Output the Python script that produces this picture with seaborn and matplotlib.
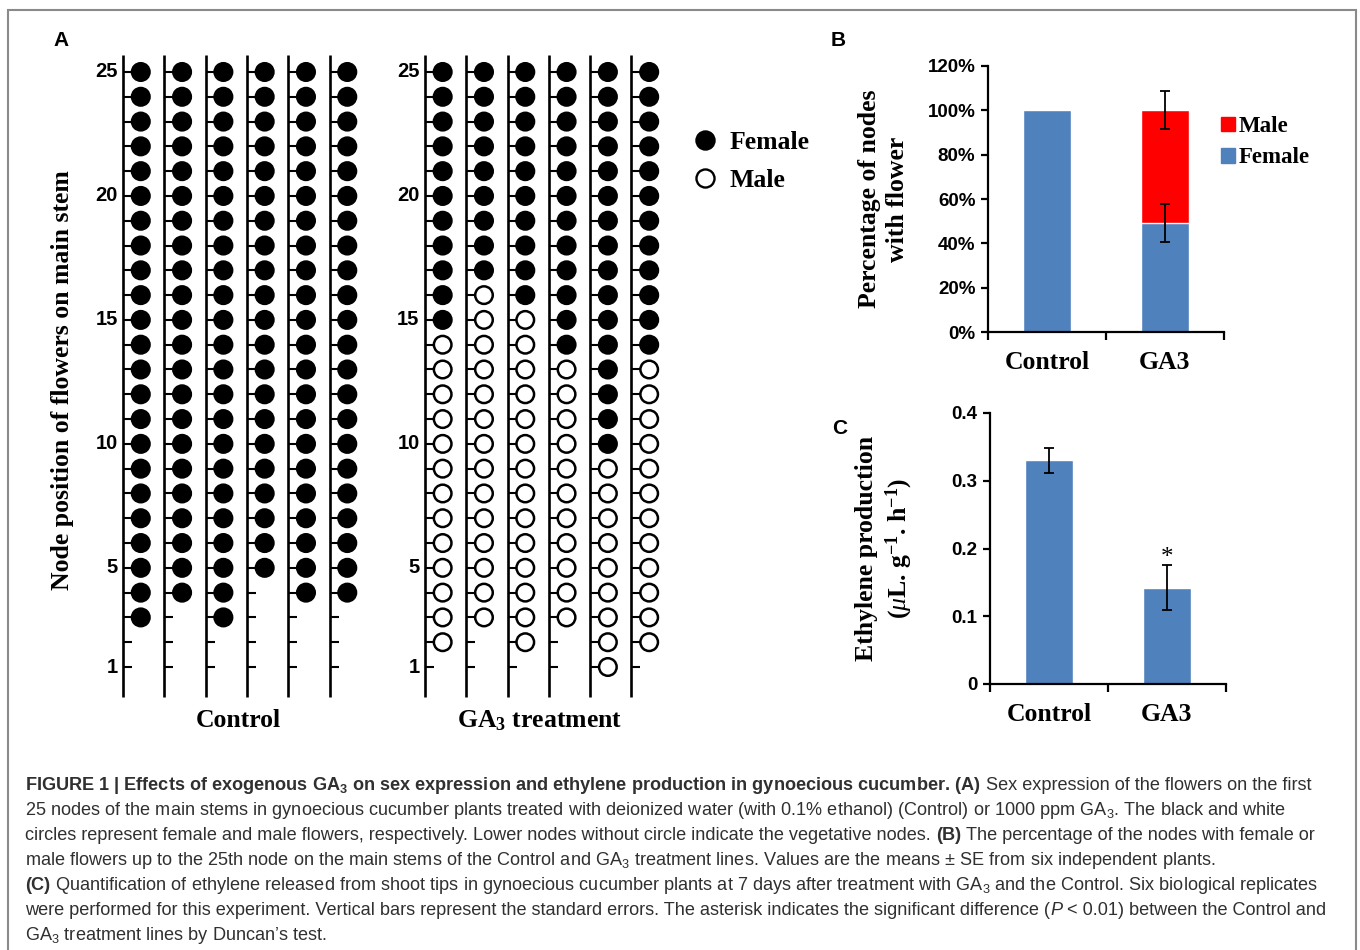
import matplotlib
matplotlib.use("Agg")
import matplotlib.pyplot as plt
import seaborn as sns
import pandas as pd
import numpy as np
from matplotlib.lines import Line2D
from matplotlib.patches import Patch, Rectangle

sns.set_theme(style="ticks", rc={
    "axes.edgecolor": "black", "text.color": "black", "axes.labelcolor": "black",
    "xtick.color": "black", "ytick.color": "black",
})
plt.rcParams["font.family"] = ["Liberation Sans", "DejaVu Sans"]
plt.rcParams["mathtext.default"] = "regular"
plt.rcParams["mathtext.fontset"] = "custom"
plt.rcParams["mathtext.it"] = "Liberation Serif:italic"

SERIF = ["Liberation Serif", "DejaVu Serif"]
SANS = ["Liberation Sans", "DejaVu Sans"]

# ---- Panel A: flowers on the first 25 nodes of six plants per treatment
n_nodes = 25
ctrl_first_flower = [3, 4, 3, 5, 4, 4]      # lowest node carrying a flower
ctrl_first_female = [3, 4, 3, 5, 4, 4]      # lowest female node (all female)
ga3_first_flower = [2, 3, 2, 3, 1, 2]
ga3_first_female = [15, 17, 16, 14, 10, 14]  # below this node: male flowers
node_ticks = [1, 5, 10, 15, 20, 25]

# ---- Panel B: % of nodes with flower
groups_b = ["Control", "GA3"]
female_pct = [100, 49]
male_pct = [0, 51]
female_se = [0, 8.6]
male_se = [0, 8.6]

# ---- Panel C: ethylene production
groups_c = ["Control", "GA3"]
ethylene = [0.33, 0.142]
ethylene_se = [0.018, 0.033]

BLUE = "#4F81BD"
RED = "#FF0000"

W, H = 1360, 950
fig = plt.figure(figsize=(13.6, 9.5), dpi=100)


def px(x0, y0, x1, y1):
    return [x0 / W, 1 - y1 / H, (x1 - x0) / W, (y1 - y0) / H]


# frame
fig.add_artist(Rectangle((8 / W, -0.02), 1348 / W, 1.02 - 10 / H,
                         transform=fig.transFigure, fill=False,
                         edgecolor="#8a8a8a", lw=1.5))

# ================= Panel A =================
GA_OFFSET = 7.31
CIRCLE_DX = 0.43
TICK_LEN = 0.22

rows = []
for grp, firsts, fems, off in [("Control", ctrl_first_flower, ctrl_first_female, 0.0),
                               ("GA3", ga3_first_flower, ga3_first_female, GA_OFFSET)]:
    for i, (f0, ff) in enumerate(zip(firsts, fems)):
        for node in range(f0, n_nodes + 1):
            rows.append({"group": grp, "stem": off + i, "node": node,
                         "sex": "Female" if node >= ff else "Male"})
df = pd.DataFrame(rows)
df["x"] = df["stem"] + CIRCLE_DX

axA = fig.add_axes(px(110, 50, 700, 700))
axA.set_xlim(-0.315, -0.315 + 590 / 41.3)
axA.set_ylim(-0.331, 25.887)
axA.axis("off")

stems = [i for i in range(6)] + [GA_OFFSET + i for i in range(6)]
axA.vlines(stems, -0.21, 25.69, color="black", lw=1.9)
for s in stems:
    axA.hlines(range(1, n_nodes + 1), s, s + TICK_LEN, color="black", lw=1.5)

sns.scatterplot(data=df, x="x", y="node", hue="sex",
                palette={"Female": "black", "Male": "white"},
                edgecolor="black", linewidth=1.8, s=160, legend=False,
                ax=axA, zorder=3, clip_on=False)

for s in [0, GA_OFFSET]:
    for n in node_ticks:
        axA.text(s - 0.13, n, str(n), ha="right", va="center",
                 fontsize=14.5, fontweight="bold", family=SANS)

fig.text(63 / W, 1 - 380 / H, "Node position of flowers on main stem",
         rotation=90, ha="center", va="center", fontsize=18.5,
         fontweight="bold", family=SERIF)
fig.text(238 / W, 1 - 727 / H, "Control", ha="center", va="baseline",
         fontsize=18.5, fontweight="bold", family=SERIF)
fig.text(540 / W, 1 - 727 / H, "GA$_3$ treatment", ha="center", va="baseline",
         fontsize=18.5, fontweight="bold", family=SERIF)

legA = [Line2D([], [], ls="none", marker="o", ms=13, mew=1.7,
               mfc="black", mec="black"),
        Line2D([], [], ls="none", marker="o", ms=13, mew=1.7,
               mfc="white", mec="black")]
fig.legend(legA, ["Female", "Male"], loc="upper left",
           bbox_to_anchor=(692 / W, 1 - 131 / H), frameon=False,
           borderpad=0, borderaxespad=0, handlelength=1.0,
           handletextpad=0.45, labelspacing=0.6,
           prop={"family": SERIF, "weight": "bold", "size": 18.5})

# ================= Panel B =================
axB = fig.add_axes(px(988, 66, 1224, 332))
total_pct = [f + m for f, m in zip(female_pct, male_pct)]
sns.barplot(x=groups_b, y=total_pct, color=RED, width=0.4, saturation=1,
            errorbar=None, ax=axB)
sns.barplot(x=groups_b, y=female_pct, color=BLUE, width=0.4, saturation=1,
            errorbar=None, ax=axB)
xb = np.arange(len(groups_b))
for vals, errs in [(female_pct, female_se), (total_pct, male_se)]:
    m = np.array(errs) > 0
    axB.errorbar(xb[m], np.array(vals)[m], yerr=np.array(errs)[m], fmt="none",
                 ecolor="black", elinewidth=1.3, capsize=3.5, capthick=1.3,
                 zorder=5)
axB.set_ylim(0, 120)
axB.set_yticks(range(0, 121, 20))
axB.set_yticklabels([f"{v}%" for v in range(0, 121, 20)])
axB.set_ylabel("Percentage of nodes\nwith flower", fontsize=18.5,
               fontweight="bold", family=SERIF, linespacing=1.3)
axB.yaxis.set_label_coords(-0.335, 0.5)
axB.legend([Patch(color=RED), Patch(color=BLUE)], ["Male", "Female"],
           loc="upper left", bbox_to_anchor=(1221 / W, 1 - 116 / H),
           bbox_transform=fig.transFigure, frameon=False, borderpad=0,
           borderaxespad=0, handlelength=0.6, handleheight=0.6,
           handletextpad=0.15, labelspacing=0.45,
           prop={"family": SERIF, "weight": "bold", "size": 16.5})

# ================= Panel C =================
axC = fig.add_axes(px(990, 413, 1226, 684))
sns.barplot(x=groups_c, y=ethylene, color=BLUE, width=0.4, saturation=1,
            errorbar=None, ax=axC)
axC.errorbar(np.arange(len(groups_c)), ethylene, yerr=ethylene_se, fmt="none",
             ecolor="black", elinewidth=1.3, capsize=3.5, capthick=1.3, zorder=5)
axC.text(1, ethylene[1] + ethylene_se[1] + 0.002, "*", ha="center",
         va="baseline", fontsize=18, family=SERIF)
axC.set_ylim(0, 0.4)
axC.set_yticks([0, 0.1, 0.2, 0.3, 0.4])
axC.set_yticklabels(["0", "0.1", "0.2", "0.3", "0.4"])
axC.set_ylabel("Ethylene production\n($\\mathit{\\mu}$L. g$^{-1}$. h$^{-1}$)",
               fontsize=18.5, fontweight="bold", family=SERIF, linespacing=1.25)
axC.yaxis.set_label_coords(-0.318, 0.5)

for ax in (axB, axC):
    sns.despine(ax=ax)
    ax.set_xlim(-0.5, 1.5)
    ax.set_xlabel("")
    for sp in ("left", "bottom"):
        ax.spines[sp].set_linewidth(1.6)
    ax.set_xticks([0, 1])
    ax.set_xticklabels(groups_b)
    ax.set_xticks([-0.5, 0.5, 1.5], minor=True)
    ax.tick_params(axis="x", which="major", length=0, pad=14)
    ax.tick_params(axis="x", which="minor", length=6, width=1.6, direction="out")
    ax.tick_params(axis="y", length=5, width=1.6, direction="out", pad=4)
    for lab in ax.get_xticklabels():
        lab.set_fontfamily(SERIF)
        lab.set_fontweight("bold")
        lab.set_fontsize(18.5)
    for lab in ax.get_yticklabels():
        lab.set_fontfamily(SANS)
        lab.set_fontweight("bold")
        lab.set_fontsize(13.5)

# panel letters
for letter, (x, y) in {"A": (61, 40), "B": (838, 40), "C": (840, 428)}.items():
    fig.text(x / W, 1 - y / H, letter, ha="center", va="center",
             fontsize=15, fontweight="bold", family=SANS)

# ================= Caption =================
CAP_FS = 13.1
CAP_COLOR = "#303030"
renderer = fig.canvas.get_renderer()


def text_w(s, **kw):
    t = fig.text(0, 0, s, fontsize=CAP_FS, family=SANS, **kw)
    w = t.get_window_extent(renderer).width
    t.remove()
    return w


space_w = text_w("a a") - text_w("aa")
B = {"fontweight": "bold"}
N = {}
I = {"fontstyle": "italic"}

caption = [
    [("FIGURE 1 | Effects of exogenous GA$_3$ on sex expression and ethylene production in gynoecious cucumber. (A)", B),
     (" Sex expression of the flowers on the first", N)],
    [("25 nodes of the main stems in gynoecious cucumber plants treated with deionized water (with 0.1% ethanol) (Control) or 1000 ppm GA$_3$. The black and white", N)],
    [("circles represent female and male flowers, respectively. Lower nodes without circle indicate the vegetative nodes.", N),
     (" (B)", B), (" The percentage of the nodes with female or", N)],
    [("male flowers up to the 25th node on the main stems of the Control and GA$_3$ treatment lines. Values are the means ± SE from six independent plants.", N)],
    [("(C)", B), (" Quantification of ethylene released from shoot tips in gynoecious cucumber plants at 7 days after treatment with GA$_3$ and the Control. Six biological replicates", N)],
    [("were performed for this experiment. Vertical bars represent the standard errors. The asterisk indicates the significant difference (", N),
     ("P", I), (" < 0.01) between the Control and", N)],
    [("GA$_3$ treatment lines by Duncan’s test.", N)],
]

for k, parts in enumerate(caption):
    x = 25
    y = 790 + 25 * k
    for txt, kw in parts:
        if txt.startswith(" "):
            x += space_w
            txt = txt[1:]
        t = fig.text(x / W, 1 - y / H, txt, ha="left", va="baseline",
                     fontsize=CAP_FS, color=CAP_COLOR, family=SANS, **kw)
        x += t.get_window_extent(renderer).width

fig.savefig("out.png", dpi=100)
